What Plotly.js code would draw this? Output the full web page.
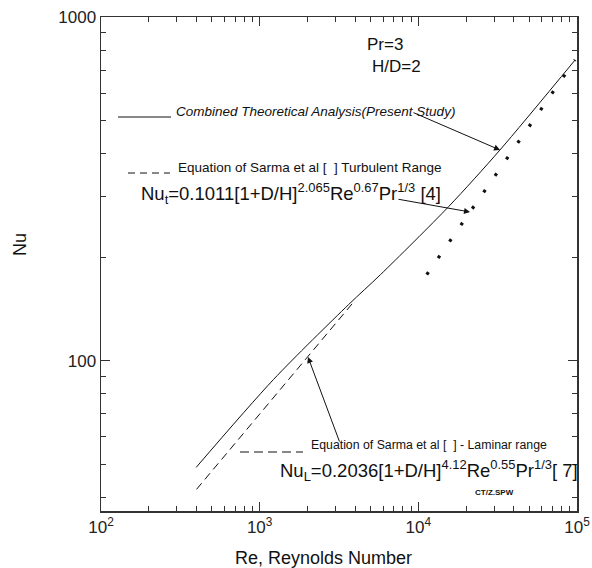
<!DOCTYPE html>
<html>
<head>
<meta charset="utf-8">
<script src="https://cdn.plot.ly/plotly-3.0.1.min.js"></script>
<style>html,body{margin:0;padding:0;background:#fff;}#chart{width:592px;height:568px;}</style>
</head>
<body>
<div id="chart"></div>
<script>
// Combined theoretical analysis (present study) - solid
const reCombined = [398, 1222, 3631, 5780, 15560, 32660, 97300];
const nuCombined = [48.9, 88.1, 145.5, 178, 281, 410, 750];
// Sarma et al. laminar range - dashed
const reLaminar = [400, 1000, 4000];
const nuLaminar = [42.2, 70, 150];
// Sarma et al. turbulent range - dotted
const reTurbulent = [11300, 18500, 50600, 97300];
const nuTurbulent = [178, 247, 482, 750];

const xTickVals = [100, 1000, 10000, 100000];
const xTickText = ['10<sup>2</sup>', '10<sup>3</sup>', '10<sup>4</sup>', '10<sup>5</sup>'];
const yTickVals = [100, 1000];
const yTickText = ['100', '1000'];

const FONT = 'Liberation Sans, Arial, sans-serif';
const INK = '#111';

const xMinor = [], yMinor = [];
[100, 1000, 10000].forEach(d => { for (let k = 2; k <= 9; k++) xMinor.push(k * d); });
[10, 100].forEach(d => { for (let k = 2; k <= 9; k++) yMinor.push(k * d); });

const traces = [
  {x: reCombined, y: nuCombined, mode: 'lines', line: {color: INK, width: 1, shape: 'spline', smoothing: 0.8}, hoverinfo: 'skip'},
  {x: reLaminar, y: nuLaminar, mode: 'lines', line: {color: INK, width: 1, dash: '8px,5px'}, hoverinfo: 'skip'},
  {x: reTurbulent, y: nuTurbulent, mode: 'lines', line: {color: INK, width: 3.2, dash: '3px,17px'}, hoverinfo: 'skip'}
];

const L = 101, R = 577, T = 17, B = 511;
const px = v => (v - L) / (R - L);
const py = v => (B - v) / (B - T);

const txt = (text, x, y, size, extra) => Object.assign({
  xref: 'paper', yref: 'paper', x: px(x), y: py(y), text: text, showarrow: false,
  xanchor: 'left', yanchor: 'middle', font: {family: FONT, size: size, color: INK}
}, extra || {});

const arrow = (tx, ty, sx, sy) => ({
  xref: 'paper', yref: 'paper', x: px(tx), y: py(ty), ax: sx - tx, ay: sy - ty,
  text: '', showarrow: true, arrowhead: 2, arrowsize: 1.2, arrowwidth: 1, arrowcolor: INK
});

const annotations = [
  txt('Pr=3', 365, 45, 17),
  txt('H/D=2', 370, 66, 17),
  txt('<i>Combined Theoretical Analysis(Present Study)</i>', 174, 111, 13.5),
  txt('Equation of Sarma et al [  ] Turbulent Range', 176, 167, 13.5),
  txt('Nu<sub>t</sub>=0.1011[1+D/H]<sup>2.065</sup>Re<sup>0.67</sup>Pr<sup>1/3</sup> [4]', 139, 193, 18.5),
  txt('Equation of Sarma et al [  ] - Laminar range', 309, 445, 12.3),
  txt('Nu<sub>L</sub>=0.2036[1+D/H]<sup>4.12</sup>Re<sup>0.55</sup>Pr<sup>1/3</sup>[ 7]', 278, 470, 18.5),
  txt('<b>CT/Z.SPW</b>', 494, 492, 8, {xanchor: 'center'}),
  txt('Nu', 20, 245, 18, {xanchor: 'center', textangle: -90}),
  txt('Re, Reynolds Number', 323, 558, 18, {xanchor: 'center'}),
  arrow(500, 150, 412, 112),
  arrow(470, 212, 397, 199),
  arrow(308, 357, 340, 443)
];

const seg = (x0, x1, y, dash) => ({
  type: 'line', xref: 'paper', yref: 'paper', x0: px(x0), x1: px(x1), y0: py(y), y1: py(y),
  line: {color: INK, width: 1, dash: dash}
});

const shapes = [
  seg(118, 171, 117, 'solid'),
  seg(128, 170, 173, '7px,5px'),
  seg(240, 303, 452, '9px,5px')
];

const axisCommon = {
  type: 'log', showgrid: false, zeroline: false, showline: true, linecolor: '#333', linewidth: 1.5,
  mirror: 'ticks', ticks: 'inside', ticklen: 9, tickwidth: 1.2, tickcolor: '#333',
  tickfont: {family: FONT, size: 17, color: '#222'}, tickmode: 'array'
};

const layout = {
  width: 592, height: 568,
  margin: {l: L, r: 592 - R, t: T, b: 568 - B},
  paper_bgcolor: '#fff', plot_bgcolor: '#fff',
  showlegend: false,
  xaxis: Object.assign({}, axisCommon, {
    range: [2, 5], tickvals: xTickVals, ticktext: xTickText,
    minor: {tickmode: 'array', tickvals: xMinor, ticks: 'inside', ticklen: 5, tickwidth: 1, tickcolor: '#333'}
  }),
  yaxis: Object.assign({}, axisCommon, {
    range: [Math.log10(36.5), 3], tickvals: yTickVals, ticktext: yTickText,
    minor: {tickmode: 'array', tickvals: yMinor, ticks: 'inside', ticklen: 5, tickwidth: 1, tickcolor: '#333'}
  }),
  annotations: annotations,
  shapes: shapes
};

Plotly.newPlot('chart', traces, layout, {staticPlot: true, displayModeBar: false});
</script>
</body>
</html>
